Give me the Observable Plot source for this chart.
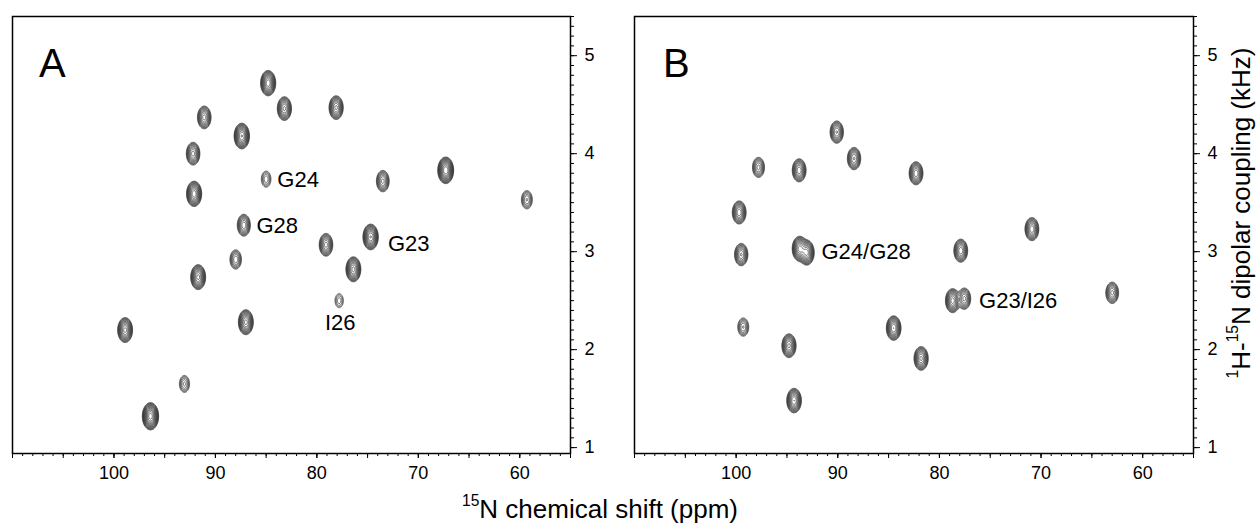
<!DOCTYPE html>
<html>
<head>
<meta charset="utf-8">
<script src="https://cdn.jsdelivr.net/npm/d3@7"></script>
<script src="https://cdn.jsdelivr.net/npm/@observablehq/plot@0.6"></script>
<style>
  html, body { margin: 0; padding: 0; background: #fff; }
  #wrap { position: relative; width: 1257px; height: 527px; overflow: hidden; font-family: "Liberation Sans", Arial, Helvetica, sans-serif; color: #000; }
  .panel { position: absolute; top: 0; }
  .xtitle { position: absolute; left: 0; width: 1200px; top: 494px; text-align: center; font-size: 26px; line-height: 30px; white-space: nowrap; }
  .ytitle { position: absolute; left: 1043px; top: 198px; width: 400px; text-align: center; font-size: 26px; line-height: 26px; white-space: nowrap; transform: rotate(-90deg); transform-origin: 50% 50%; }
  sup { font-size: 60%; vertical-align: 0; position: relative; top: -0.75em; }
  .tag { position: absolute; font-size: 40px; line-height: 40px; }
</style>
</head>
<body>
<div id="wrap">
  <div id="pa" class="panel" style="left:0px"></div>
  <div id="pb" class="panel" style="left:622px"></div>
  <div class="tag" style="left:39px; top:43px">A</div>
  <div class="tag" style="left:663px; top:43px">B</div>
  <div class="xtitle"><sup>15</sup>N chemical shift (ppm)</div>
  <div class="ytitle"><sup>1</sup>H-<sup>15</sup>N dipolar coupling (kHz)</div>
</div>
<script>
// ---------- Panel A peaks (15N shift ppm, 1H-15N coupling kHz, relative intensity)
const aShift     = [84.8, 83.2, 78.1, 91.1, 87.4, 92.2, 85.0, 73.5, 67.3, 59.3, 92.1, 87.2, 79.1, 74.7, 88.0, 91.7, 76.4, 77.8, 87.0, 98.9, 93.05, 96.4];
const aCoupling  = [4.72, 4.46, 4.47, 4.37, 4.18, 4.00, 3.74, 3.72, 3.83, 3.53, 3.59, 3.27, 3.07, 3.15, 2.92, 2.74, 2.82, 2.50, 2.28, 2.20, 1.65, 1.32];
const aIntensity = [22,   15,   15,   12,   24,   12,   3.5,  9,    30,   5,    22,   10,   12,   24,   6,    20,   20,   2.6,  20,   20,   4,    36];

// ---------- Panel B peaks
const bShift     = [90.1, 88.4, 97.8, 93.8, 82.3, 99.7, 70.9, 99.5, 93.75, 93.05, 77.9, 78.7, 77.55, 63.0, 99.3, 84.5, 94.8, 81.8, 94.3];
const bCoupling  = [4.22, 3.95, 3.86, 3.83, 3.80, 3.40, 3.23, 2.97, 3.03,  2.99,  3.01, 2.50, 2.52,  2.58, 2.23, 2.22, 2.04, 1.91, 1.48];
const bIntensity = [11,   11,   7,    13,   13,   13,   13,   11,   20,    20,    13,   16,   9,     9,    5,    18,   15,   15,   18];

// ---------- Assignment labels
const aLabelText  = ["G24", "G28", "G23", "I26"];
const aLabelShift = [83.9, 85.95, 73.0, 77.7];
const aLabelCoup  = [3.73, 3.26, 3.08, 2.27];
const aLabelAnchor = ["start", "start", "start", "middle"];

const bLabelText  = ["G24/G28", "G23/I26"];
const bLabelShift = [91.6, 76.1];
const bLabelCoup  = [3.00, 2.50];
const bLabelAnchor = ["start", "start"];

// ---------- Axis ticks
const xMajorTicks = [100, 90, 80, 70, 60];
const xMidTicks   = d3.range(55, 111, 5);
const xMinorTicks = d3.range(55, 111, 1);
const yMajorTicks = [1, 2, 3, 4, 5];
const yMinorTicks = d3.range(10, 55, 1).map(d => d / 10);

const X_DOMAIN = [110, 55];
const Y_DOMAIN = [0.94, 5.4];
const SX = 0.30, SY = 0.052;
const thresholds = [1, 1.3, 1.69, 2.2, 2.86, 3.71, 4.83, 6.27, 8.16, 10.6, 13.8, 17.9, 23.3, 30.3, 39.4];

function makePeaks(xs, ys, as) {
  return xs.map((x, i) => ({x, y: ys[i], a: as[i]}));
}
function field(peaks) {
  return (x, y) => {
    let v = 0;
    for (const p of peaks) {
      const dx = (x - p.x) / SX, dy = (y - p.y) / SY;
      const d2 = dx * dx + dy * dy;
      if (d2 < 60) v += p.a * Math.exp(-0.5 * d2);
    }
    return v;
  };
}
function labels(t, xs, ys, anchors) {
  return t.map((text, i) => ({text, x: xs[i], y: ys[i], anchor: anchors[i]}));
}

function panel(peaks, labs, width, marginRight) {
  return Plot.plot({
    width, height: 500,
    marginLeft: 12, marginRight, marginTop: 16, marginBottom: 47,
    x: {domain: X_DOMAIN},
    y: {domain: Y_DOMAIN},
    style: {fontFamily: '"Liberation Sans", Arial, Helvetica, sans-serif', fontSize: "18px", color: "#000", background: "transparent"},
    marks: [
      Plot.contour({value: field(peaks), x1: X_DOMAIN[0], x2: X_DOMAIN[1], y1: Y_DOMAIN[0], y2: Y_DOMAIN[1],
        thresholds, pixelSize: 0.5, stroke: "#2a2a2a", strokeWidth: 0.7, fill: "none"}),
      Plot.axisX({ticks: xMinorTicks, tickSize: 3, tickFormat: () => "", label: null, strokeWidth: 1}),
      Plot.axisX({ticks: xMidTicks, tickSize: 5, tickFormat: () => "", label: null, strokeWidth: 1}),
      Plot.axisX({ticks: xMajorTicks, tickSize: 5, tickPadding: 8, tickFormat: d => String(d), label: null, fontSize: 18, strokeWidth: 1}),
      Plot.axisY({anchor: "right", ticks: yMinorTicks, tickSize: 3, tickFormat: () => "", label: null, strokeWidth: 1}),
      Plot.axisY({anchor: "right", ticks: yMajorTicks, tickSize: 6, tickPadding: 8, tickFormat: d => String(d), label: null, fontSize: 18, strokeWidth: 1}),
      Plot.frame({stroke: "#000", strokeWidth: 1.5}),
      Plot.text(labs.filter(d => d.anchor === "start"), {x: "x", y: "y", text: "text", textAnchor: "start", fontSize: 22, fill: "#000"}),
      Plot.text(labs.filter(d => d.anchor === "middle"), {x: "x", y: "y", text: "text", textAnchor: "middle", fontSize: 22, fill: "#000"})
    ]
  });
}

const peaksA = makePeaks(aShift, aCoupling, aIntensity);
const peaksB = makePeaks(bShift, bCoupling, bIntensity);
document.getElementById("pa").append(panel(peaksA, labels(aLabelText, aLabelShift, aLabelCoup, aLabelAnchor), 620, 50));
document.getElementById("pb").append(panel(peaksB, labels(bLabelText, bLabelShift, bLabelCoup, bLabelAnchor), 635, 64));
</script>
</body>
</html>
